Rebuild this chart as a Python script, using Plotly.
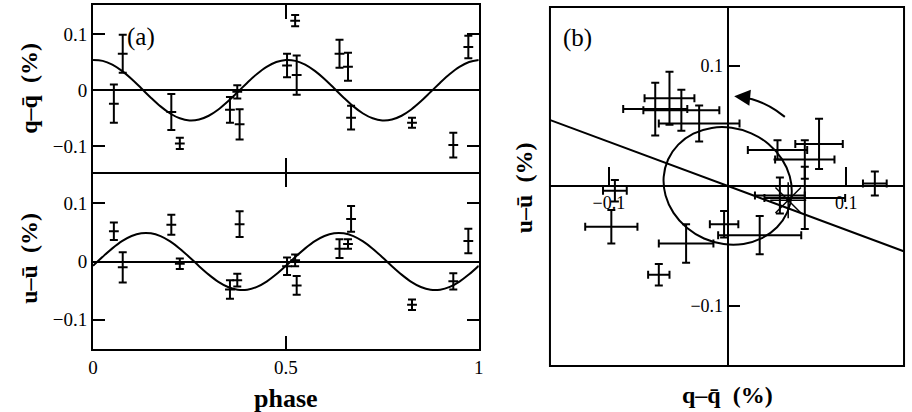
import plotly.graph_objects as go

# ---------------- data ----------------
phase = [0.054, 0.077, 0.203, 0.225, 0.355, 0.374, 0.380, 0.503,
         0.524, 0.528, 0.639, 0.661, 0.669, 0.827, 0.934, 0.973]
q_val = [-0.024, 0.065, -0.039, -0.095, -0.035, -0.003, -0.061, 0.044,
         0.124, 0.027, 0.065, 0.042, -0.049, -0.058, -0.098, 0.077]
q_err = [0.034, 0.034, 0.032, 0.010, 0.023, 0.012, 0.027, 0.021,
         0.010, 0.035, 0.025, 0.025, 0.021, 0.009, 0.022, 0.020]
u_val = [0.052, -0.010, 0.063, -0.004, -0.048, -0.032, 0.064, -0.008,
         0.002, -0.041, 0.022, 0.030, 0.073, -0.074, -0.034, 0.035]
u_err = [0.015, 0.026, 0.017, 0.009, 0.016, 0.011, 0.022, 0.015,
         0.010, 0.016, 0.016, 0.008, 0.022, 0.009, 0.014, 0.021]

# fitted curves
fit_phase = [0.000, 0.025, 0.050, 0.075, 0.100, 0.125, 0.150, 0.175, 0.200, 0.225,
             0.250, 0.275, 0.300, 0.325, 0.350, 0.375, 0.400, 0.425, 0.450, 0.475,
             0.500, 0.525, 0.550, 0.575, 0.600, 0.625, 0.650, 0.675, 0.700, 0.725,
             0.750, 0.775, 0.800, 0.825, 0.850, 0.875, 0.900, 0.925, 0.950, 0.975,
             1.000]
fit_q = [0.0539, 0.0523, 0.0456, 0.0344, 0.0199, 0.0034, -0.0134, -0.0289, -0.0416, -0.0502,
         -0.0539, -0.0523, -0.0456, -0.0344, -0.0199, -0.0034, 0.0134, 0.0289, 0.0416, 0.0502,
         0.0539, 0.0523, 0.0456, 0.0344, 0.0199, 0.0034, -0.0134, -0.0289, -0.0416, -0.0502,
         -0.0539, -0.0523, -0.0456, -0.0344, -0.0199, -0.0034, 0.0134, 0.0289, 0.0416, 0.0502,
         0.0539]
fit_u = [-0.0074, 0.0080, 0.0225, 0.0349, 0.0438, 0.0484, 0.0483, 0.0435, 0.0344, 0.0220,
         0.0074, -0.0080, -0.0225, -0.0349, -0.0438, -0.0484, -0.0483, -0.0435, -0.0344, -0.0220,
         -0.0074, 0.0080, 0.0225, 0.0349, 0.0438, 0.0484, 0.0483, 0.0435, 0.0344, 0.0220,
         0.0074, -0.0080, -0.0225, -0.0349, -0.0438, -0.0484, -0.0483, -0.0435, -0.0344, -0.0220,
         -0.0074]

# position-angle line in panel (b)
pa_q = [-0.15, 0.15]
pa_u = [0.055, -0.055]

# rotation-direction arc in panel (b)
arc_q = [0.0482, 0.0397, 0.0305, 0.0207, 0.0130]
arc_u = [0.0575, 0.0636, 0.0685, 0.0721, 0.0739]
arrow_tip = (0.0055, 0.0746)

# phase-zero marker
start_q = [0.051]
start_u = [-0.012]

tick_a_x = [0, 0.5, 1]
tick_a_y = [-0.1, 0, 0.1]
tick_b = [-0.1, 0.1]

# ---------------- figure ----------------
FONT = "Liberation Serif"
BLK = "black"
W, H = 912, 412

fig = go.Figure()

def err(v):
    return dict(type="data", array=v, visible=True, color=BLK, thickness=2, width=4)

pt_marker = dict(symbol="line-ew-open", size=7, color=BLK, line=dict(color=BLK, width=2))

# panel (a) top
fig.add_trace(go.Scatter(x=fit_phase, y=fit_q, mode="lines", line=dict(color=BLK, width=2, shape="spline"),
                         xaxis="x", yaxis="y"))
fig.add_trace(go.Scatter(x=phase, y=q_val, mode="markers", error_y=err(q_err), marker=pt_marker,
                         xaxis="x", yaxis="y"))
# panel (a) bottom
fig.add_trace(go.Scatter(x=fit_phase, y=fit_u, mode="lines", line=dict(color=BLK, width=2, shape="spline"),
                         xaxis="x2", yaxis="y2"))
fig.add_trace(go.Scatter(x=phase, y=u_val, mode="markers", error_y=err(u_err), marker=pt_marker,
                         xaxis="x2", yaxis="y2"))
# panel (b)
fig.add_trace(go.Scatter(x=pa_q, y=pa_u, mode="lines", line=dict(color=BLK, width=2),
                         xaxis="x3", yaxis="y3"))
fig.add_trace(go.Scatter(x=fit_q[:21], y=fit_u[:21], mode="lines",
                         line=dict(color=BLK, width=2, shape="spline"), xaxis="x3", yaxis="y3"))
fig.add_trace(go.Scatter(x=q_val, y=u_val, mode="markers", error_x=err(q_err), error_y=err(u_err),
                         marker=dict(size=1, color=BLK), xaxis="x3", yaxis="y3"))
fig.add_trace(go.Scatter(x=arc_q, y=arc_u, mode="lines", line=dict(color=BLK, width=2, shape="spline"),
                         xaxis="x3", yaxis="y3"))
fig.add_trace(go.Scatter(x=start_q, y=start_u, mode="markers",
                         marker=dict(symbol="asterisk-open", size=30, color=BLK,
                                     line=dict(color=BLK, width=1.5)),
                         xaxis="x3", yaxis="y3"))

tickfont = dict(family=FONT, size=19, color=BLK)
xa_dom = [89 / W, 479 / W]
common_a = dict(showline=True, linewidth=2, linecolor=BLK, mirror="ticks", ticks="inside",
                tickcolor=BLK, tickwidth=2, showgrid=False, tickfont=tickfont)

fig.update_layout(
    width=W, height=H, margin=dict(l=0, r=0, t=0, b=0),
    paper_bgcolor="white", plot_bgcolor="white", showlegend=False,
    xaxis=dict(domain=xa_dom, anchor="y", range=[0, 1], tickvals=tick_a_x, ticklen=14,
               showticklabels=False, zeroline=False, **common_a),
    yaxis=dict(domain=[1 - 172 / H, 1 - 5 / H], anchor="x", range=[-0.146, 0.152],
               tickvals=tick_a_y, ticktext=["−0.1", "0", "0.1"], ticklen=12,
               zeroline=True, zerolinewidth=2, zerolinecolor=BLK, **common_a),
    xaxis2=dict(domain=xa_dom, anchor="y2", range=[0, 1], tickvals=tick_a_x, ticktext=["0", "0.5", "1"],
                ticklen=13, zeroline=False, **common_a),
    yaxis2=dict(domain=[1 - 349 / H, 1 - 174 / H], anchor="x2", range=[-0.15, 0.15],
                tickvals=tick_a_y, ticktext=["−0.1", "0", "0.1"], ticklen=12,
                zeroline=True, zerolinewidth=2, zerolinecolor=BLK, **common_a),
    xaxis3=dict(domain=[551 / W, 909 / W], anchor="free", position=1 - 186 / H, range=[-0.1497, 0.1486],
                showline=True, linewidth=2, linecolor=BLK, ticks="inside", ticklen=18, tickwidth=2,
                tickcolor=BLK, tickvals=tick_b, ticktext=["−0.1", "0.1"], showgrid=False,
                zeroline=False, tickfont=dict(family=FONT, size=18, color=BLK)),
    yaxis3=dict(domain=[1 - 366 / H, 1 - 7 / H], anchor="free", position=730.7 / W, range=[-0.15, 0.149],
                showline=True, linewidth=2, linecolor=BLK, ticks="inside", ticklen=11, tickwidth=2,
                tickcolor=BLK, tickvals=tick_b, ticktext=["−0.1", "0.1"], showgrid=False,
                zeroline=False, tickfont=dict(family=FONT, size=18, color=BLK)),
    shapes=[dict(type="rect", xref="x3 domain", yref="y3 domain", x0=0, x1=1, y0=0, y1=1,
                 line=dict(color=BLK, width=2), layer="above")],
)

title_font = dict(family=FONT, size=24, color=BLK)
ann = [
    dict(text="<b>q–q̄  (%)</b>", x=24 / W, y=1 - 88 / H, textangle=-90, font=title_font),
    dict(text="<b>u–ū  (%)</b>", x=24 / W, y=1 - 258 / H, textangle=-90, font=title_font),
    dict(text="<b>u–ū  (%)</b>", x=525 / W, y=1 - 188 / H, textangle=-90, font=title_font),
    dict(text="<b>q–q̄  (%)</b>", x=731 / W, y=1 - 395 / H, font=title_font),
    dict(text="<b>phase</b>", x=284 / W, y=1 - 398 / H, font=dict(family=FONT, size=26, color=BLK)),
    dict(text="(a)", x=138 / W, y=1 - 37 / H, font=dict(family=FONT, size=25, color=BLK)),
    dict(text="(b)", x=579 / W, y=1 - 38 / H, font=dict(family=FONT, size=25, color=BLK)),
]
for a in ann:
    a.update(xref="paper", yref="paper", showarrow=False, xanchor="center", yanchor="middle")
fig.update_layout(annotations=ann)
fig.add_annotation(x=arrow_tip[0], y=arrow_tip[1], ax=arc_q[-1], ay=arc_u[-1], xref="x3", yref="y3",
                   axref="x3", ayref="y3", showarrow=True, arrowhead=2, arrowsize=1.6, arrowwidth=2,
                   arrowcolor=BLK, text="")

fig.write_html("out.html", config={"displayModeBar": False},
               post_script="document.body.style.margin='0';document.body.style.overflow='hidden';")
